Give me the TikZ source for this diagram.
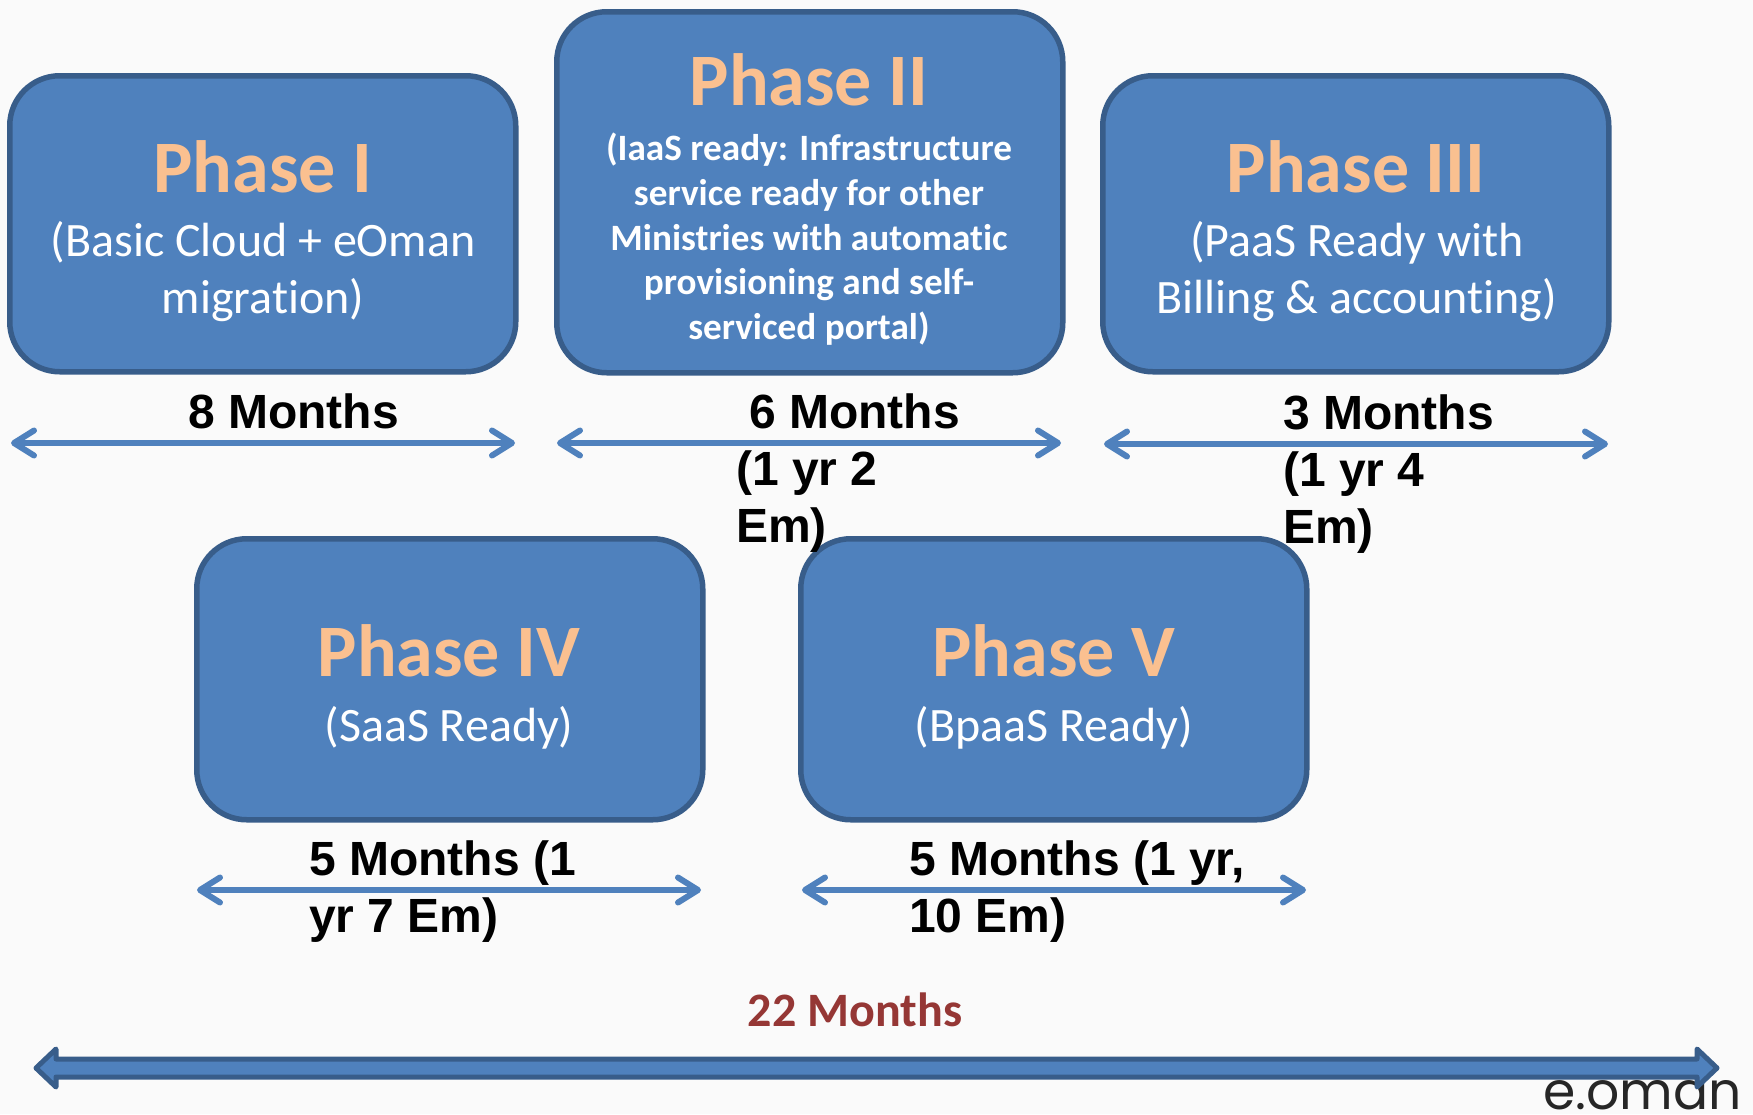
\documentclass[tikz,border=0pt]{standalone}
\usepackage{fontspec}
\setmainfont[Ligatures=NoCommon]{Carlito}
\newfontfamily\armfont{Liberation Sans}
\newfontfamily\logofont{Poppins}
\usetikzlibrary{arrows.meta}
\definecolor{pagebg}{HTML}{FAFAFA}
\definecolor{boxfill}{HTML}{4F81BD}
\definecolor{boxline}{HTML}{385D8A}
\definecolor{phasecol}{HTML}{FAC090}
\definecolor{redcol}{HTML}{953735}
\tikzset{
  x=1pt,y=-1pt,
  phase/.style={draw=boxline,fill=boxfill,line width=5.5pt,rounded corners=50pt,inner sep=0pt,minimum width=506pt,anchor=north west},
  ptitle/.style={text=phasecol,font=\fontsize{74}{74}\selectfont\bfseries,anchor=base,inner sep=0pt},
  psub/.style={text=white,font=\fontsize{48}{57}\selectfont,anchor=north,align=center,inner sep=0pt},
  psubb/.style={text=white,font=\fontsize{37.2}{44.6}\selectfont\bfseries,anchor=north,align=center,inner sep=0pt},
  span/.style={draw=boxfill,line width=6pt,{Straight Barb[length=20pt,width=25pt,line width=6pt,round]}-{Straight Barb[length=20pt,width=25pt,line width=6pt,round]}},
  dur/.style={font=\armfont\fontsize{48}{57}\selectfont\bfseries,text=black,anchor=north west,align=left,inner sep=0pt},
}
\begin{document}
\begin{tikzpicture}
\useasboundingbox (0,0) rectangle (1753,1114);
\fill[pagebg] (0,0) rectangle (1753,1114);
% logo
\node[font=\logofont\fontsize{52}{52}\selectfont,text=black!85,anchor=base west,inner sep=0pt] (logo) at (1543,1109) {e.oman};
% boxes
\node[phase,minimum height=296pt] (b1) at (7,73) {};
\node[phase,minimum height=361pt] (b2) at (554,9) {};
\node[phase,minimum height=296pt] (b3) at (1100,73) {};
\node[phase,minimum height=281pt] (b4) at (194,536) {};
\node[phase,minimum height=281pt] (b5) at (798,536) {};
% box text
\node[ptitle] (t1) at (263,192) {Phase I};
\node[psub] (s1) at (263,221) {(Basic Cloud + eOman\\migration)};
\node[ptitle] (t2) at (809,105) {Phase II};
\node[psubb] (s2) at (809,133) {(IaaS ready: Infrastructure\\service ready for other\\Ministries with automatic\\provisioning and self-\\serviced portal)};
\node[ptitle] (t3) at (1356,192) {Phase III};
\node[psub] (s3) at (1357,221) {(PaaS Ready with\\Billing \& accounting)};
\node[ptitle] (t4) at (449,676) {Phase IV};
\node[psub] (s4) at (449,706) {(SaaS Ready)};
\node[ptitle] (t5) at (1054,676) {Phase V};
\node[psub] (s5) at (1054,706) {(BpaaS Ready)};
% span arrows
\coordinate (a1l) at (11,443); \coordinate (a1r) at (515,443);
\coordinate (a2l) at (557,443); \coordinate (a2r) at (1061,443);
\coordinate (a3l) at (1104,444); \coordinate (a3r) at (1608,444);
\coordinate (a4l) at (197,890); \coordinate (a4r) at (701,890);
\coordinate (a5l) at (802,890); \coordinate (a5r) at (1306,890);
\draw[span] (a1l) -- (a1r);
\draw[span] (a2l) -- (a2r);
\draw[span] (a3l) -- (a3r);
\draw[span] (a4l) -- (a4r);
\draw[span] (a5l) -- (a5r);
% durations
\node[dur] (d1) at (188,394) {8 Months};
\node[dur] (d2) at (736,394) {\hspace*{13pt}6 Months\\(1 yr 2\\Em)};
\node[dur] (d3) at (1283,395) {3 Months\\(1 yr 4\\Em)};
\node[dur] (d4) at (309,841) {5 Months (1\\yr 7 Em)};
\node[dur] (d5) at (909,841) {5 Months (1 yr,\\10 Em)};
\node[font=\fontsize{48}{48}\selectfont\bfseries,text=redcol,inner sep=0pt] (total) at (855,1010) {22 Months};
% big arrow
\coordinate (bl) at (36,1068); \coordinate (br) at (1717,1068);
\path[draw=boxline,fill=boxfill,line width=5pt,line join=round]
  (bl) -- ([xshift=20pt,yshift=-19pt]bl) -- ([xshift=20pt,yshift=-9pt]bl)
  -- ([xshift=-20pt,yshift=-9pt]br) -- ([xshift=-20pt,yshift=-19pt]br) -- (br)
  -- ([xshift=-20pt,yshift=19pt]br) -- ([xshift=-20pt,yshift=9pt]br)
  -- ([xshift=20pt,yshift=9pt]bl) -- ([xshift=20pt,yshift=19pt]bl) -- cycle;
\end{tikzpicture}
\end{document}
